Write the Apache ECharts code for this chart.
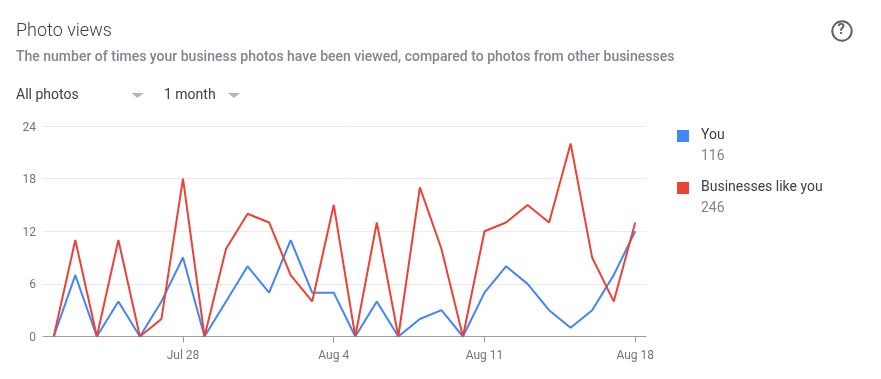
<!DOCTYPE html>
<html><head><meta charset="utf-8">
<style>html,body{margin:0;padding:0;background:#fff}#c{width:881px;height:379px}</style>
<script src="https://cdn.jsdelivr.net/npm/echarts@6/dist/echarts.min.js"></script>
</head><body><div id="c"></div>
<script>
const days = ['Jul 22','Jul 23','Jul 24','Jul 25','Jul 26','Jul 27','Jul 28','Jul 29','Jul 30','Jul 31','Aug 1','Aug 2','Aug 3','Aug 4','Aug 5','Aug 6','Aug 7','Aug 8','Aug 9','Aug 10','Aug 11','Aug 12','Aug 13','Aug 14','Aug 15','Aug 16','Aug 17','Aug 18'];
const you = [0,7,0,4,0,4,9,0,4,8,5,11,5,5,0,4,0,2,3,0,5,8,6,3,1,3,7,12];
const peers = [0,11,0,11,0,2,18,0,10,14,13,7,4,15,0,13,0,17,10,0,12,13,15,13,22,9,4,13];
const labelledDays = ['Jul 28','Aug 4','Aug 11','Aug 18'];
const seriesNames = ['You','Businesses like you'];
const totals = ['116','246'];
const F = 'Roboto, sans-serif';
const show = (i) => labelledDays.includes(days[i]);
const chart = echarts.init(document.getElementById('c'), null, {renderer:'canvas'});
const txt = (x,y,t,size,fill,weight) => ({type:'text',left:x,top:y,style:{text:t,font:(weight||400)+' '+size+'px '+F,fill:fill}});
const tri = (x,y) => ({type:'polygon',shape:{points:[[x,y],[x+12,y],[x+6,y+5]]},style:{fill:'#b4b4b4'}});
chart.setOption({
  animation:false,
  color:['#4285f4','#ea4335'],
  grid:{left:43,right:235,top:126,bottom:42.5,containLabel:false},
  legend:{orient:'vertical',left:672,top:123,itemWidth:12,itemHeight:12,itemGap:38,icon:'rect',
    data:seriesNames,formatter:'{t|{name}}',
    textStyle:{fontFamily:F,fontSize:14,color:'#3c4043',
      rich:{t:{fontFamily:F,fontSize:14,color:'#3c4043',padding:[0,0,2,7]}}},itemStyle:{borderWidth:0}},
  xAxis:{type:'category',data:days,boundaryGap:true,
    axisLine:{show:true,lineStyle:{color:'#9e9e9e',width:1}},
    axisTick:{show:true,alignWithLabel:true,length:6,interval:(i)=>show(i),lineStyle:{color:'#9e9e9e'}},
    axisLabel:{interval:(i)=>show(i),color:'#757575',fontFamily:F,fontSize:12,margin:13},
    splitLine:{show:false}},
  yAxis:{type:'value',min:0,max:24,interval:6,
    axisLine:{show:false},axisTick:{show:false},
    axisLabel:{color:'#757575',fontFamily:F,fontSize:12,margin:7,formatter:'{v|{value}}',
      rich:{v:{color:'#757575',fontFamily:F,fontSize:12,padding:[3,0,0,0]}}},
    splitLine:{lineStyle:{color:'#ebebeb',width:1}}},
  series:[
    {name:seriesNames[0],type:'line',data:you,showSymbol:false,symbol:'none',lineStyle:{width:2,color:'#4285f4'},itemStyle:{color:'#4285f4'}},
    {name:seriesNames[1],type:'line',data:peers,showSymbol:false,symbol:'none',lineStyle:{width:2,color:'#ea4335'},itemStyle:{color:'#ea4335'}}
  ],
  graphic:[
    txt(16,22,'Photo views',18,'#3c4043',300),
    txt(16,50,'The number of times your business photos have been viewed, compared to photos from other businesses',14,'#80868b',500),
    txt(16,88,'All photos',14,'#3c4043',400),
    tri(131.5,93),
    txt(164,88,'1 month',14,'#3c4043',400),
    tri(228,93),
    {type:'circle',shape:{cx:842,cy:31,r:9.7},style:{fill:'none',stroke:'#5f6368',lineWidth:2}},
    {type:'text',left:837.5,top:23,style:{text:'?',font:'700 15px '+F,fill:'#5f6368'}},
    txt(701,149,totals[0],14,'#80868b',400),
    txt(701,201,totals[1],14,'#80868b',400)
  ]
});
</script></body></html>
